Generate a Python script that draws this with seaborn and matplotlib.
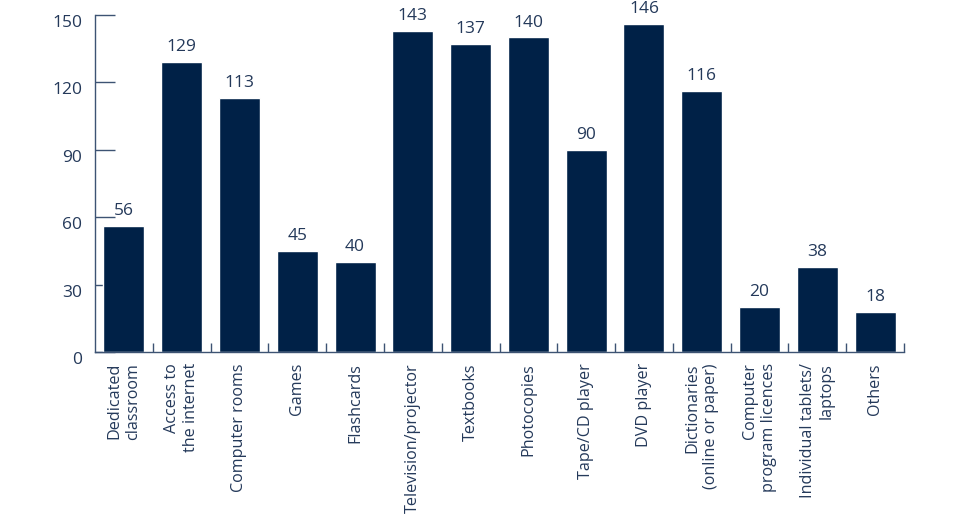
import matplotlib
matplotlib.use("Agg")
import matplotlib.pyplot as plt
from matplotlib.transforms import ScaledTranslation
from matplotlib.ticker import FixedLocator
import seaborn as sns
import pandas as pd

categories = [
    "Dedicated\nclassroom", "Access to\nthe internet", "Computer rooms", "Games",
    "Flashcards", "Television/projector", "Textbooks", "Photocopies",
    "Tape/CD player", "DVD player", "Dictionaries\n(online or paper)",
    "Computer\nprogram licences", "Individual tablets/\nlaptops", "Others",
]
values = [56, 129, 113, 45, 40, 143, 137, 140, 90, 146, 116, 20, 38, 18]
y_ticks = [0, 30, 60, 90, 120, 150]

bar_color = "#002147"
text_color = "#24395a"
axis_color = "#3d5373"

sns.set_theme(style="white")
plt.rcParams["font.family"] = ["Open Sans", "DejaVu Sans"]

df = pd.DataFrame({"category": categories, "value": values})

fig = plt.figure(figsize=(9.6, 5.14), dpi=100)
ax = fig.add_axes([95 / 960, 1 - 352 / 514, (904 - 95) / 960, (352 - 15) / 514])

sns.barplot(data=df, x="category", y="value", color=bar_color, saturation=1,
            width=0.71, ax=ax, zorder=1)

ax.set_xlim(-0.5, len(categories) - 0.5)
ax.set_ylim(0, 150)
ax.set_yticks(y_ticks)
ax.set_xlabel("")
ax.set_ylabel("")

for s in ["top", "right"]:
    ax.spines[s].set_visible(False)
for s in ["left", "bottom"]:
    ax.spines[s].set_color(axis_color)
    ax.spines[s].set_linewidth(1.0)
    ax.spines[s].set_zorder(3)

ax.set_axisbelow(True)
ax.tick_params(axis="y", direction="in", length=14.5, width=1.0, color=axis_color,
               labelsize=12.5, labelcolor=text_color, pad=9.4, left=True)
ax.tick_params(axis="x", which="major", length=0, labelsize=11.6,
               labelcolor=text_color, pad=8)
ax.xaxis.set_minor_locator(FixedLocator([i + 0.5 for i in range(len(categories))]))
ax.tick_params(axis="x", which="minor", direction="in", length=6.5, width=1.0,
               color=axis_color, bottom=True)

for lab in ax.get_xticklabels():
    lab.set_rotation(90)
    lab.set_ha("center")
    lab.set_va("top")
    lab.set_multialignment("right")
    lab.set_linespacing(1.2)

off = ScaledTranslation(0, -6 / 100, fig.dpi_scale_trans)
for lab in ax.get_yticklabels():
    lab.set_transform(lab.get_transform() + off)

ax.bar_label(ax.containers[0], labels=[str(v) for v in values], padding=5,
             fontsize=12.5, color=text_color)

fig.savefig("out.png", dpi=100, facecolor="white")
